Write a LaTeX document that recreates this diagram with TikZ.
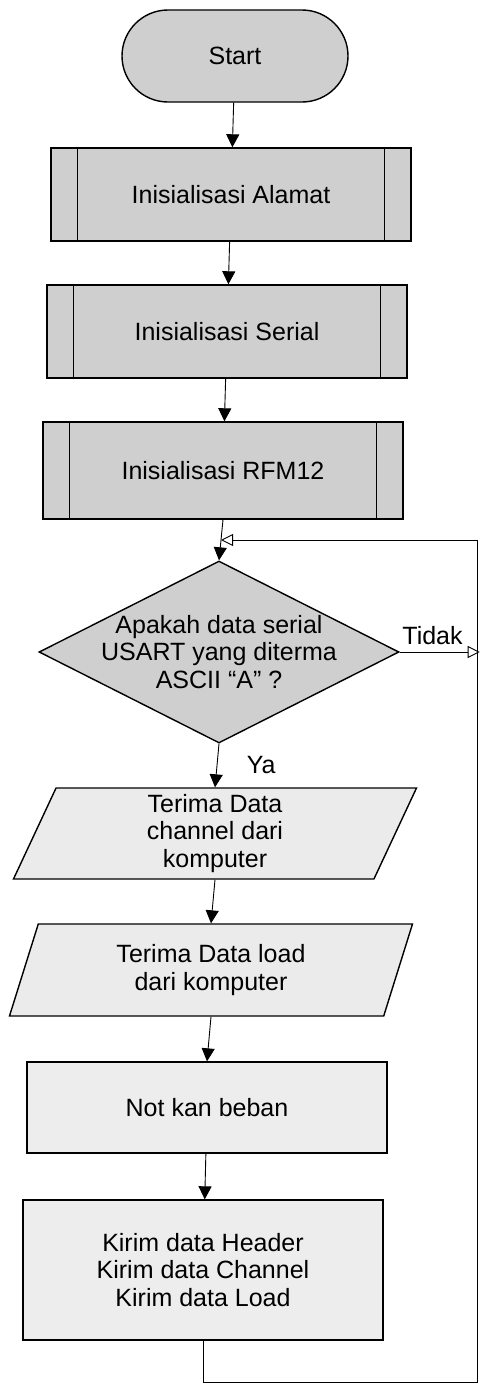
\documentclass[tikz,border=0pt]{standalone}
\usepackage{fontspec}
\setmainfont{Liberation Sans}
\usetikzlibrary{arrows.meta,positioning,calc,shapes.geometric}

\begin{document}
\begin{tikzpicture}[font=\fontsize{25}{27.5}\selectfont,
  terminal/.style={draw,line width=1.4pt,fill=gray!38,rounded corners=46pt,minimum width=226pt,minimum height=92pt},
  subproses/.style={draw,line width=1.4pt,fill=gray!38,minimum width=360pt,minimum height=93pt},
  proses/.style={draw,line width=1.4pt,fill=gray!14,minimum width=360pt,minimum height=91pt,align=center},
  keputusan/.style={diamond,draw,line width=1.4pt,fill=gray!38,minimum width=360pt,minimum height=182pt,inner sep=0pt},
  masukan/.style={trapezium,trapezium left angle=63.4,trapezium right angle=116.6,trapezium stretches body,draw,line width=1.4pt,fill=gray!16,minimum width=403pt,minimum height=91pt,align=center},
  arr/.style={-{Triangle[width=13pt,length=13pt]},line width=0.9pt},
  arrbuka/.style={-{Triangle[open,width=12pt,length=12pt]},line width=0.9pt}]
\useasboundingbox (0,0) rectangle (485pt,-1385pt);
\node[terminal] (start) at (235pt,-56pt) {Start};
\node[subproses,below=44.6pt of start,xshift=-4pt] (alamat) {Inisialisasi Alamat};
\node[subproses,below=42.6pt of alamat,xshift=-4pt] (serial) {Inisialisasi Serial};
\node[subproses,below=42.6pt of serial,xshift=-4pt,minimum height=97pt] (rfm) {Inisialisasi RFM12};
\node[keputusan,below=40.6pt of rfm,xshift=-4pt] (tanya) {};
\node[align=center] (tanyateks) at (tanya) {Apakah data serial\\USART yang diterma\\ASCII “A” ?};
\node[masukan,below=43.6pt of tanya,xshift=-4pt] (channel) {Terima Data\\channel dari\\komputer};
\node[masukan,below=43.6pt of channel,xshift=-4pt,minimum height=92pt] (load) {Terima Data load\\dari komputer};
\node[proses,below=44.6pt of load,xshift=-4pt] (beban) {Not kan beban};
\node[proses,below=45.6pt of beban,xshift=-4pt,minimum height=140pt] (kirim) {Kirim data Header\\Kirim data Channel\\Kirim data Load};
\coordinate (gabung) at ($(rfm.south)!0.5!(tanya.north)$);
\coordinate (ujung) at ([xshift=80pt]tanya.east);
% garis tepi subproses
\foreach \n in {alamat,serial,rfm}{
  \draw[line width=1.4pt] ([xshift=27pt]\n.north west) -- ([xshift=27pt]\n.south west);
  \draw[line width=1.4pt] ([xshift=-27pt]\n.north east) -- ([xshift=-27pt]\n.south east);
}
\draw[arr] (start)--(alamat);
\draw[arr] (alamat)--(serial);
\draw[arr] (serial)--(rfm);
\draw[arr] (rfm.south)--(tanya.north);
\draw[arr] (tanya.south) -- node[midway,right=26pt] (ya) {Ya} (channel.north);
\draw[arrbuka] (tanya.east) -- node[pos=0.41,above=3pt] (tidak) {Tidak} (ujung);
\draw[arr] (channel.south)--(load.north);
\draw[arr] (load.south)--(beban.north);
\draw[arr] (beban)--(kirim);
\draw[arrbuka] (kirim.south) -- ++(0,-42pt) -| ([xshift=-2pt]ujung |- gabung) -- (gabung);
\end{tikzpicture}
\end{document}
